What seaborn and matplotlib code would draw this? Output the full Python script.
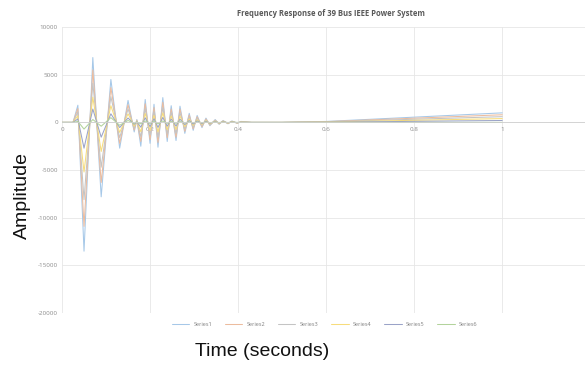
import numpy as np
import pandas as pd
import matplotlib
matplotlib.use("Agg")
import matplotlib.pyplot as plt
import seaborn as sns

# time samples (s) read at peaks / troughs of the response
time = [0, 0.025, 0.036, 0.05, 0.07, 0.089, 0.111, 0.131, 0.15, 0.164,
        0.17, 0.179, 0.189, 0.2, 0.209, 0.218, 0.229, 0.239, 0.248, 0.259,
        0.268, 0.279, 0.289, 0.298, 0.307, 0.318, 0.327, 0.336, 0.348, 0.357,
        0.366, 0.377, 0.386, 0.398, 0.407, 0.43, 0.5, 0.6, 1.0]

series1 = [0, 0, 1800, -13500, 6800, -7800, 4500, -2700, 2300, -1000,
           300, -2500, 2400, -2200, 1900, -2600, 2600, -2000, 1750, -1900,
           1700, -1150, 950, -830, 730, -550, 450, -350, 300, -200,
           200, -150, 150, -100, 100, 0, 0, 100, 1000]
series2 = [0, 0, 1450, -10900, 5500, -6300, 3650, -2200, 1850, -800,
           240, -2000, 1950, -1800, 1550, -2100, 2100, -1600, 1400, -1550,
           1380, -930, 770, -670, 590, -450, 360, -280, 240, -160,
           160, -120, 120, -80, 80, 0, 0, 80, 800]
series3 = [0, 0, 1100, -8100, 4100, -4700, 2700, -1600, 1400, -600,
           180, -1500, 1450, -1300, 1150, -1550, 1550, -1200, 1050, -1150,
           1000, -700, 570, -500, 440, -330, 270, -210, 180, -120,
           120, -90, 90, -60, 60, 0, 0, 60, 600]
series4 = [0, 0, 700, -5200, 2650, -3050, 1750, -1050, 900, -400,
           120, -980, 940, -860, 740, -1000, 1000, -780, 680, -740,
           660, -450, 370, -320, 280, -210, 180, -140, 120, -80,
           80, -60, 60, -40, 40, 0, 0, 40, 400]
series5 = [0, 0, 360, -2700, 1400, -1550, 900, -540, 460, -200,
           60, -500, 480, -440, 380, -520, 520, -400, 350, -380,
           340, -230, 190, -170, 150, -110, 90, -70, 60, -40,
           40, -30, 30, -20, 20, 0, 0, 20, 200]
series6 = [0, 0, 100, -700, 300, -400, 500, -300, 200, -100,
           50, -150, 150, -120, 120, -150, 150, -100, 100, -100,
           90, -60, 50, -40, 40, -30, 20, -20, 20, -10,
           10, -10, 10, 0, 0, 0, 0, 0, 0]

names = ["Series1", "Series2", "Series3", "Series4", "Series5", "Series6"]
colors = ["#a6c8e8", "#ecbc9e", "#c4c4c4", "#f7dc7c", "#9aa3c8", "#b3d39c"]

x_ticks = [0, 0.2, 0.4, 0.6, 0.8, 1]
x_tick_labels = ["0", "0.2", "0.4", "0.6", "0.8", "1"]
y_ticks = [-20000, -15000, -10000, -5000, 0, 5000, 10000]

# long-form table for seaborn
all_series = [series1, series2, series3, series4, series5, series6]
df = pd.concat([pd.DataFrame({"Time": time, "Amplitude": vals, "Series": n})
                for n, vals in zip(names, all_series)], ignore_index=True)

sns.set_style("whitegrid")
plt.rcParams["font.family"] = ["Open Sans", "DejaVu Sans"]

fig = plt.figure(figsize=(5.85, 3.65), dpi=100)
ax = fig.add_axes([0.106, 0.142, 0.903, 0.784])

sns.lineplot(data=df, x="Time", y="Amplitude", hue="Series",
             palette=colors, linewidth=0.75, ax=ax, legend=True)

ax.set_xlim(0, 1.2)
ax.set_ylim(-20000, 10000)
ax.set_xticks(x_ticks)
ax.set_xticklabels(x_tick_labels)
ax.set_yticks(y_ticks)
ax.set_yticklabels([str(v) for v in y_ticks])
ax.tick_params(axis="both", labelsize=4.5, colors="#8c8c8c", length=0, pad=3)
ax.grid(True, color="#e6e6e6", linewidth=0.6)

for s in ["top", "right", "left"]:
    ax.spines[s].set_visible(False)
ax.spines["bottom"].set_position(("data", 0))
ax.spines["bottom"].set_color("#d0d0d0")
ax.spines["bottom"].set_linewidth(0.6)

ax.set_xlabel("")
ax.set_ylabel("")

fig.text(0.565, 0.962, "Frequency Response of 39 Bus IEEE Power System",
         ha="center", va="center", fontsize=5.5, fontweight="bold",
         color="#595959")
fig.text(0.038, 0.465, "Amplitude", rotation=90, ha="center", va="center",
         fontsize=14, family="Liberation Sans", color="#111111")
fig.text(0.448, 0.036, "Time (seconds)", ha="center", va="center",
         fontsize=14, family="Liberation Sans", color="#111111")

handles, labels = ax.get_legend_handles_labels()
ax.legend_.remove()
fig.legend(handles, labels, loc="center", bbox_to_anchor=(0.555, 0.11),
           ncol=6, frameon=False, fontsize=4, handlelength=3.2,
           columnspacing=2.2, labelcolor="#7f7f7f")

fig.savefig("out.png", dpi=100)
